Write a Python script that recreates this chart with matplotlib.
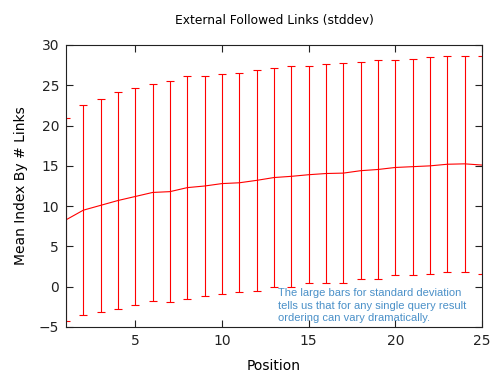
import matplotlib
matplotlib.use("Agg")
import matplotlib.pyplot as plt

# position in result list and the mean index / stddev
positions = list(range(1, 26))
mean_index = [8.3, 9.5, 10.1, 10.7, 11.2, 11.7, 11.8, 12.3, 12.5, 12.8,
              12.9, 13.2, 13.55, 13.7, 13.9, 14.05, 14.1, 14.4, 14.55, 14.8,
              14.9, 15.0, 15.2, 15.25, 15.1]
stddev = [12.6, 13.0, 13.2, 13.45, 13.45, 13.5, 13.75, 13.8, 13.6, 13.65,
          13.6, 13.7, 13.55, 13.7, 13.5, 13.65, 13.65, 13.5, 13.6, 13.35,
          13.4, 13.45, 13.4, 13.4, 13.5]

x_ticks = [5, 10, 15, 20, 25]
y_ticks = [-5, 0, 5, 10, 15, 20, 25, 30]

note = ("The large bars for standard deviation\n"
        "tells us that for any single query result\n"
        "ordering can vary dramatically.")

fig = plt.figure(figsize=(5, 3.75), dpi=100)
ax = fig.add_axes([0.132, 0.128, 0.832, 0.752])

ax.errorbar(positions, mean_index, yerr=stddev, color="#ff0000",
            linewidth=0.8, elinewidth=0.8, capsize=3, capthick=0.8)

ax.set_xlim(1, 25)
ax.set_ylim(-5, 30)
ax.set_xticks(x_ticks)
ax.set_yticks(y_ticks)
ax.tick_params(direction="in", top=True, right=True, length=5,
               width=0.8, labelsize=10, colors="#222222", pad=5)
for s in ax.spines.values():
    s.set_linewidth(0.8)
    s.set_color("#222222")

ax.set_title("External Followed Links (stddev)", fontsize=8.8, pad=15)
ax.set_xlabel("Position", fontsize=10, labelpad=8)
ax.set_ylabel("Mean Index By # Links", fontsize=10, labelpad=8)

ax.text(0.51, 0.137, note, transform=ax.transAxes, fontsize=8,
        family="Liberation Sans", color="#4a90c8", va="top",
        linespacing=1.3)

fig.savefig("out.png")
